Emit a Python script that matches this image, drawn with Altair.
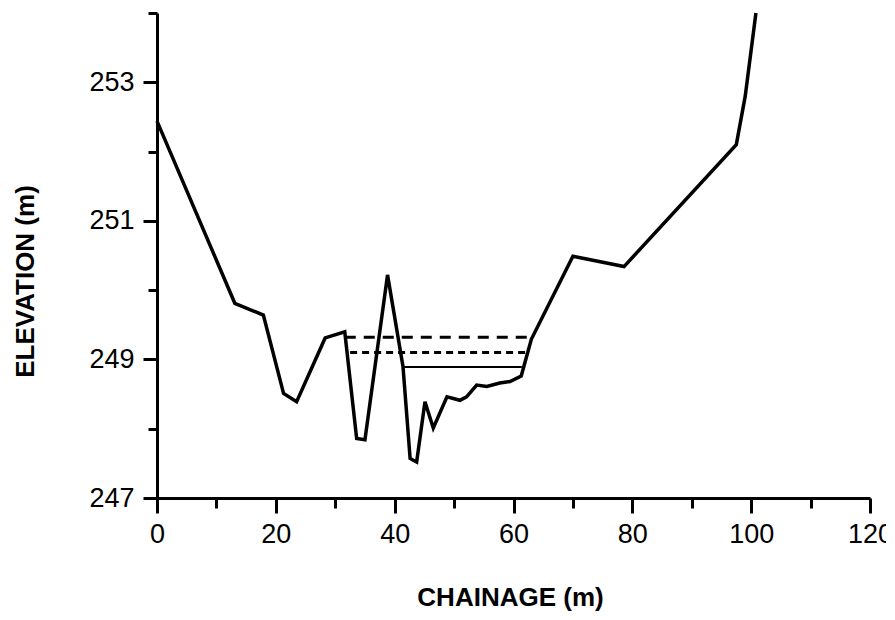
import altair as alt
import pandas as pd

# River cross-section profile
chainage = [0.0, 13.1, 17.9, 21.3, 23.5, 28.3, 31.6, 33.6, 35.0, 38.8, 41.4, 42.6,
            43.7, 45.1, 46.5, 48.8, 51.0, 52.1, 53.8, 55.5, 57.7, 59.4, 61.3, 63.0,
            70.0, 78.6, 97.5, 99.0, 100.8]
elevation = [252.44, 249.81, 249.64, 248.51, 248.39, 249.31, 249.40, 247.86, 247.84,
             250.22, 248.90, 247.57, 247.52, 248.39, 248.01, 248.46, 248.41, 248.46,
             248.63, 248.61, 248.66, 248.68, 248.76, 249.29, 250.49, 250.34, 252.10,
             252.80, 254.0]

# Water levels (start chainage, end chainage, elevation)
wl_names = ["high", "mid", "low"]
wl_start = [31.6, 32.5, 41.6]
wl_end = [63.3, 62.6, 61.4]
wl_level = [249.32, 249.10, 248.89]

profile = pd.DataFrame({"chainage": chainage, "elevation": elevation})

def wl_frame(i):
    return pd.DataFrame({
        "chainage": [wl_start[i], wl_end[i]],
        "elevation": [wl_level[i], wl_level[i]],
    })

x_ticks = list(range(0, 121, 10))
y_ticks = list(range(247, 255))

FONT = "Liberation Sans"

x_enc = alt.X(
    "chainage:Q",
    scale=alt.Scale(domain=[0, 120], nice=False, zero=False),
    axis=alt.Axis(
        values=x_ticks, format="d",
        labelExpr="datum.value % 20 === 0 ? datum.label : ''",
        tickSize={"condition": {"test": "datum.value % 20 === 0", "value": 15}, "value": 10},
        tickWidth=3, domainWidth=3, domainColor="black", tickColor="black",
        labelFont=FONT, labelFontSize=27, labelColor="black", labelPadding=8,
        labelFlush=False, labelOverlap=False, grid=False,
        title="CHAINAGE (m)", titleFont=FONT, titleFontSize=26, titleFontWeight="bold",
        titleColor="black", titleX=353, titleY=99, titleBaseline="middle",
        titleAlign="center",
    ),
)
y_enc = alt.Y(
    "elevation:Q",
    scale=alt.Scale(domain=[247, 254], nice=False, zero=False),
    axis=alt.Axis(
        values=y_ticks, format="d",
        labelExpr="datum.value % 2 === 1 ? datum.label : ''",
        tickSize={"condition": {"test": "datum.value % 2 === 1", "value": 14}, "value": 9},
        tickWidth=3, domainWidth=3, domainColor="black", tickColor="black",
        labelFont=FONT, labelFontSize=27, labelColor="black", labelPadding=9,
        labelFlush=False, labelOverlap=False, grid=False,
        title="ELEVATION (m)", titleFont=FONT, titleFontSize=26, titleFontWeight="bold",
        titleColor="black", titleX=-132, titleY=268, titleBaseline="middle",
        titleAlign="center", titleAngle=270,
    ),
)

line_profile = alt.Chart(profile).mark_line(
    color="black", strokeWidth=3.5, strokeJoin="miter", clip=False
).encode(x=x_enc, y=y_enc)

wl_high = alt.Chart(wl_frame(0)).mark_line(
    color="black", strokeWidth=3, strokeDash=[11, 8]
).encode(x="chainage:Q", y="elevation:Q")
wl_mid = alt.Chart(wl_frame(1)).mark_line(
    color="black", strokeWidth=3, strokeDash=[7, 5]
).encode(x="chainage:Q", y="elevation:Q")
wl_low = alt.Chart(wl_frame(2)).mark_line(
    color="black", strokeWidth=2
).encode(x="chainage:Q", y="elevation:Q")

chart = alt.layer(wl_high, wl_mid, wl_low, line_profile).properties(
    width=713, height=485,
    autosize=alt.AutoSizeParams(type="none"),
    padding={"left": 149, "top": 5, "right": 16, "bottom": 114},
    background="white",
).configure_view(stroke=None)

chart.save("out.html", embed_options={"renderer": "svg", "actions": False})
